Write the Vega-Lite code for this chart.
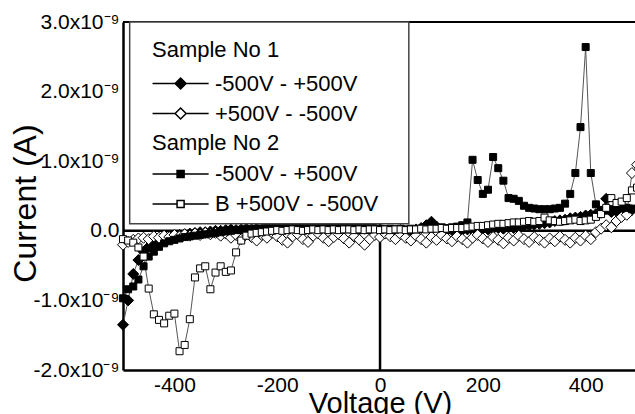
{
"$schema": "https://vega.github.io/schema/vega-lite/v6.json",
"autosize": "none",
"width": 512,
"height": 348,
"padding": {"left": 123, "top": 22, "right": 0, "bottom": 44},
"config": {
  "font": "Liberation Sans",
  "view": {"stroke": null},
  "axis": {"domainColor": "black", "domainWidth": 2.5, "tickColor": "black", "tickWidth": 2, "tickSize": 0, "labelColor": "black", "titleColor": "black", "labelFont": "Liberation Sans", "titleFont": "Liberation Sans", "titleFontWeight": "normal", "grid": false, "labelFontSize": 21},
  "legend": {"labelFont": "Liberation Sans", "titleFont": "Liberation Sans", "labelFontSize": 22, "titleFontSize": 22, "titleFontWeight": "normal", "labelColor": "black", "titleColor": "black", "symbolSize": 121, "labelOffset": 41, "padding": 0, "rowPadding": 8, "titlePadding": 8, "orient": "none", "labelLimit": 400}
},
"datasets": {
"s1": [
{"run":"-500V - +500V","V":-500,"I":-1.35e-9},{"run":"-500V - +500V","V":-490,"I":-1.0e-9},{"run":"-500V - +500V","V":-480,"I":-0.62e-9},{"run":"-500V - +500V","V":-470,"I":-0.42e-9},{"run":"-500V - +500V","V":-460,"I":-0.3e-9},
{"run":"-500V - +500V","V":-450,"I":-0.23e-9},{"run":"-500V - +500V","V":-440,"I":-0.18e-9},{"run":"-500V - +500V","V":-430,"I":-0.14e-9},{"run":"-500V - +500V","V":-420,"I":-0.11e-9},{"run":"-500V - +500V","V":-410,"I":-0.09e-9},
{"run":"-500V - +500V","V":-400,"I":-0.07e-9},{"run":"-500V - +500V","V":-390,"I":-0.06e-9},{"run":"-500V - +500V","V":-380,"I":-0.05e-9},{"run":"-500V - +500V","V":-370,"I":-0.04e-9},{"run":"-500V - +500V","V":-360,"I":-0.03e-9},
{"run":"-500V - +500V","V":-350,"I":-0.02e-9},{"run":"-500V - +500V","V":-340,"I":-0.02e-9},{"run":"-500V - +500V","V":-330,"I":-0.01e-9},{"run":"-500V - +500V","V":-320,"I":0},{"run":"-500V - +500V","V":-310,"I":0},
{"run":"-500V - +500V","V":-300,"I":0.01e-9},{"run":"-500V - +500V","V":-290,"I":0.02e-9},{"run":"-500V - +500V","V":-280,"I":0.01e-9},{"run":"-500V - +500V","V":-270,"I":0.02e-9},{"run":"-500V - +500V","V":-260,"I":0.03e-9},
{"run":"-500V - +500V","V":-250,"I":0.02e-9},{"run":"-500V - +500V","V":-240,"I":0.03e-9},{"run":"-500V - +500V","V":-230,"I":0.02e-9},{"run":"-500V - +500V","V":-220,"I":0.03e-9},{"run":"-500V - +500V","V":-210,"I":0.03e-9},
{"run":"-500V - +500V","V":-200,"I":0.02e-9},{"run":"-500V - +500V","V":-190,"I":0.03e-9},{"run":"-500V - +500V","V":-180,"I":0.04e-9},{"run":"-500V - +500V","V":-170,"I":0.02e-9},{"run":"-500V - +500V","V":-160,"I":0.03e-9},
{"run":"-500V - +500V","V":-150,"I":0.03e-9},{"run":"-500V - +500V","V":-140,"I":0.04e-9},{"run":"-500V - +500V","V":-130,"I":0.03e-9},{"run":"-500V - +500V","V":-120,"I":0.02e-9},{"run":"-500V - +500V","V":-110,"I":0.03e-9},
{"run":"-500V - +500V","V":-100,"I":0.04e-9},{"run":"-500V - +500V","V":-90,"I":0.03e-9},{"run":"-500V - +500V","V":-80,"I":0.02e-9},{"run":"-500V - +500V","V":-70,"I":0.03e-9},{"run":"-500V - +500V","V":-60,"I":0.04e-9},
{"run":"-500V - +500V","V":-50,"I":0.03e-9},{"run":"-500V - +500V","V":-40,"I":0.02e-9},{"run":"-500V - +500V","V":-30,"I":0.03e-9},{"run":"-500V - +500V","V":-20,"I":0.02e-9},{"run":"-500V - +500V","V":-10,"I":0.03e-9},
{"run":"-500V - +500V","V":0,"I":0.02e-9},{"run":"-500V - +500V","V":10,"I":0},{"run":"-500V - +500V","V":20,"I":-0.02e-9},{"run":"-500V - +500V","V":30,"I":0},{"run":"-500V - +500V","V":40,"I":0.01e-9},
{"run":"-500V - +500V","V":50,"I":-0.01e-9},{"run":"-500V - +500V","V":60,"I":0},{"run":"-500V - +500V","V":70,"I":0.02e-9},{"run":"-500V - +500V","V":80,"I":0.04e-9},{"run":"-500V - +500V","V":90,"I":0.08e-9},
{"run":"-500V - +500V","V":100,"I":0.13e-9},{"run":"-500V - +500V","V":110,"I":0.06e-9},{"run":"-500V - +500V","V":120,"I":0.02e-9},{"run":"-500V - +500V","V":130,"I":0},{"run":"-500V - +500V","V":140,"I":0.01e-9},
{"run":"-500V - +500V","V":150,"I":0},{"run":"-500V - +500V","V":160,"I":0.01e-9},{"run":"-500V - +500V","V":170,"I":0.02e-9},{"run":"-500V - +500V","V":180,"I":0.01e-9},{"run":"-500V - +500V","V":190,"I":0.02e-9},
{"run":"-500V - +500V","V":200,"I":0.03e-9},{"run":"-500V - +500V","V":210,"I":0.02e-9},{"run":"-500V - +500V","V":220,"I":0.03e-9},{"run":"-500V - +500V","V":230,"I":0.04e-9},{"run":"-500V - +500V","V":240,"I":0.03e-9},
{"run":"-500V - +500V","V":250,"I":0.05e-9},{"run":"-500V - +500V","V":260,"I":0.04e-9},{"run":"-500V - +500V","V":270,"I":0.06e-9},{"run":"-500V - +500V","V":280,"I":0.07e-9},{"run":"-500V - +500V","V":290,"I":0.08e-9},
{"run":"-500V - +500V","V":300,"I":0.09e-9},{"run":"-500V - +500V","V":310,"I":0.1e-9},{"run":"-500V - +500V","V":320,"I":0.11e-9},{"run":"-500V - +500V","V":330,"I":0.12e-9},{"run":"-500V - +500V","V":340,"I":0.14e-9},
{"run":"-500V - +500V","V":350,"I":0.15e-9},{"run":"-500V - +500V","V":360,"I":0.16e-9},{"run":"-500V - +500V","V":370,"I":0.18e-9},{"run":"-500V - +500V","V":380,"I":0.19e-9},{"run":"-500V - +500V","V":390,"I":0.2e-9},
{"run":"-500V - +500V","V":400,"I":0.22e-9},{"run":"-500V - +500V","V":410,"I":0.23e-9},{"run":"-500V - +500V","V":420,"I":0.24e-9},{"run":"-500V - +500V","V":430,"I":0.26e-9},{"run":"-500V - +500V","V":440,"I":0.46e-9},
{"run":"-500V - +500V","V":450,"I":0.27e-9},{"run":"-500V - +500V","V":460,"I":0.28e-9},{"run":"-500V - +500V","V":470,"I":0.3e-9},{"run":"-500V - +500V","V":480,"I":0.31e-9},{"run":"-500V - +500V","V":490,"I":0.3e-9},
{"run":"-500V - +500V","V":500,"I":0.32e-9},
{"run":"+500V - -500V","V":-500,"I":-0.2e-9},{"run":"+500V - -500V","V":-490,"I":-0.16e-9},{"run":"+500V - -500V","V":-480,"I":-0.13e-9},{"run":"+500V - -500V","V":-470,"I":-0.11e-9},{"run":"+500V - -500V","V":-460,"I":-0.1e-9},
{"run":"+500V - -500V","V":-450,"I":-0.12e-9},{"run":"+500V - -500V","V":-440,"I":-0.08e-9},{"run":"+500V - -500V","V":-430,"I":-0.1e-9},{"run":"+500V - -500V","V":-420,"I":-0.07e-9},{"run":"+500V - -500V","V":-410,"I":-0.09e-9},
{"run":"+500V - -500V","V":-400,"I":-0.06e-9},{"run":"+500V - -500V","V":-390,"I":-0.08e-9},{"run":"+500V - -500V","V":-380,"I":-0.05e-9},{"run":"+500V - -500V","V":-370,"I":-0.07e-9},{"run":"+500V - -500V","V":-360,"I":-0.04e-9},
{"run":"+500V - -500V","V":-350,"I":-0.06e-9},{"run":"+500V - -500V","V":-340,"I":-0.03e-9},{"run":"+500V - -500V","V":-330,"I":-0.05e-9},{"run":"+500V - -500V","V":-320,"I":-0.03e-9},{"run":"+500V - -500V","V":-310,"I":-0.07e-9},
{"run":"+500V - -500V","V":-300,"I":-0.04e-9},{"run":"+500V - -500V","V":-290,"I":-0.1e-9},{"run":"+500V - -500V","V":-280,"I":-0.06e-9},{"run":"+500V - -500V","V":-270,"I":-0.12e-9},{"run":"+500V - -500V","V":-260,"I":-0.05e-9},
{"run":"+500V - -500V","V":-250,"I":-0.09e-9},{"run":"+500V - -500V","V":-240,"I":-0.14e-9},{"run":"+500V - -500V","V":-230,"I":-0.06e-9},{"run":"+500V - -500V","V":-220,"I":-0.1e-9},{"run":"+500V - -500V","V":-210,"I":-0.03e-9},
{"run":"+500V - -500V","V":-200,"I":-0.08e-9},{"run":"+500V - -500V","V":-190,"I":-0.13e-9},{"run":"+500V - -500V","V":-180,"I":-0.17e-9},{"run":"+500V - -500V","V":-170,"I":-0.08e-9},{"run":"+500V - -500V","V":-160,"I":-0.05e-9},
{"run":"+500V - -500V","V":-150,"I":-0.12e-9},{"run":"+500V - -500V","V":-140,"I":-0.16e-9},{"run":"+500V - -500V","V":-130,"I":-0.07e-9},{"run":"+500V - -500V","V":-120,"I":-0.04e-9},{"run":"+500V - -500V","V":-110,"I":-0.1e-9},
{"run":"+500V - -500V","V":-100,"I":-0.15e-9},{"run":"+500V - -500V","V":-90,"I":-0.09e-9},{"run":"+500V - -500V","V":-80,"I":-0.05e-9},{"run":"+500V - -500V","V":-70,"I":-0.11e-9},{"run":"+500V - -500V","V":-60,"I":-0.17e-9},
{"run":"+500V - -500V","V":-50,"I":-0.08e-9},{"run":"+500V - -500V","V":-40,"I":-0.13e-9},{"run":"+500V - -500V","V":-30,"I":-0.2e-9},{"run":"+500V - -500V","V":-20,"I":-0.12e-9},{"run":"+500V - -500V","V":-10,"I":-0.06e-9},
{"run":"+500V - -500V","V":0,"I":-0.09e-9},{"run":"+500V - -500V","V":10,"I":-0.04e-9},{"run":"+500V - -500V","V":20,"I":-0.08e-9},{"run":"+500V - -500V","V":30,"I":-0.12e-9},{"run":"+500V - -500V","V":40,"I":-0.05e-9},
{"run":"+500V - -500V","V":50,"I":-0.1e-9},{"run":"+500V - -500V","V":60,"I":-0.14e-9},{"run":"+500V - -500V","V":70,"I":-0.07e-9},{"run":"+500V - -500V","V":80,"I":-0.12e-9},{"run":"+500V - -500V","V":90,"I":-0.17e-9},
{"run":"+500V - -500V","V":100,"I":-0.09e-9},{"run":"+500V - -500V","V":110,"I":-0.13e-9},{"run":"+500V - -500V","V":120,"I":-0.06e-9},{"run":"+500V - -500V","V":130,"I":-0.11e-9},{"run":"+500V - -500V","V":140,"I":-0.15e-9},
{"run":"+500V - -500V","V":150,"I":-0.08e-9},{"run":"+500V - -500V","V":160,"I":-0.12e-9},{"run":"+500V - -500V","V":170,"I":-0.17e-9},{"run":"+500V - -500V","V":180,"I":-0.1e-9},{"run":"+500V - -500V","V":190,"I":-0.06e-9},
{"run":"+500V - -500V","V":200,"I":-0.11e-9},{"run":"+500V - -500V","V":210,"I":-0.16e-9},{"run":"+500V - -500V","V":220,"I":-0.09e-9},{"run":"+500V - -500V","V":230,"I":-0.13e-9},{"run":"+500V - -500V","V":240,"I":-0.18e-9},
{"run":"+500V - -500V","V":250,"I":-0.1e-9},{"run":"+500V - -500V","V":260,"I":-0.14e-9},{"run":"+500V - -500V","V":270,"I":-0.07e-9},{"run":"+500V - -500V","V":280,"I":-0.12e-9},{"run":"+500V - -500V","V":290,"I":-0.16e-9},
{"run":"+500V - -500V","V":300,"I":-0.09e-9},{"run":"+500V - -500V","V":310,"I":-0.13e-9},{"run":"+500V - -500V","V":320,"I":-0.17e-9},{"run":"+500V - -500V","V":330,"I":-0.11e-9},{"run":"+500V - -500V","V":340,"I":-0.15e-9},
{"run":"+500V - -500V","V":350,"I":-0.08e-9},{"run":"+500V - -500V","V":360,"I":-0.13e-9},{"run":"+500V - -500V","V":370,"I":-0.17e-9},{"run":"+500V - -500V","V":380,"I":-0.1e-9},{"run":"+500V - -500V","V":390,"I":-0.14e-9},
{"run":"+500V - -500V","V":400,"I":-0.07e-9},{"run":"+500V - -500V","V":410,"I":-0.12e-9},{"run":"+500V - -500V","V":420,"I":-0.02e-9},{"run":"+500V - -500V","V":430,"I":0.03e-9},{"run":"+500V - -500V","V":440,"I":0.08e-9},
{"run":"+500V - -500V","V":450,"I":0.05e-9},{"run":"+500V - -500V","V":460,"I":0.14e-9},{"run":"+500V - -500V","V":470,"I":0.2e-9},{"run":"+500V - -500V","V":480,"I":0.23e-9},{"run":"+500V - -500V","V":490,"I":0.83e-9},
{"run":"+500V - -500V","V":500,"I":0.95e-9}
],
"s2": [
{"run":"-500V - +500V","V":-500,"I":-0.97e-9},{"run":"-500V - +500V","V":-490,"I":-0.84e-9},{"run":"-500V - +500V","V":-480,"I":-0.8e-9},{"run":"-500V - +500V","V":-470,"I":-0.7e-9},{"run":"-500V - +500V","V":-460,"I":-0.51e-9},
{"run":"-500V - +500V","V":-450,"I":-0.37e-9},{"run":"-500V - +500V","V":-440,"I":-0.3e-9},{"run":"-500V - +500V","V":-430,"I":-0.23e-9},{"run":"-500V - +500V","V":-420,"I":-0.18e-9},{"run":"-500V - +500V","V":-410,"I":-0.15e-9},
{"run":"-500V - +500V","V":-400,"I":-0.13e-9},{"run":"-500V - +500V","V":-390,"I":-0.11e-9},{"run":"-500V - +500V","V":-380,"I":-0.09e-9},{"run":"-500V - +500V","V":-370,"I":-0.08e-9},{"run":"-500V - +500V","V":-360,"I":-0.07e-9},
{"run":"-500V - +500V","V":-350,"I":-0.06e-9},{"run":"-500V - +500V","V":-340,"I":-0.05e-9},{"run":"-500V - +500V","V":-330,"I":-0.04e-9},{"run":"-500V - +500V","V":-320,"I":-0.03e-9},{"run":"-500V - +500V","V":-310,"I":-0.02e-9},
{"run":"-500V - +500V","V":-300,"I":-0.01e-9},{"run":"-500V - +500V","V":-290,"I":0},{"run":"-500V - +500V","V":-280,"I":0.01e-9},{"run":"-500V - +500V","V":-270,"I":0.01e-9},{"run":"-500V - +500V","V":-260,"I":0.02e-9},
{"run":"-500V - +500V","V":-250,"I":0.02e-9},{"run":"-500V - +500V","V":-240,"I":0.03e-9},{"run":"-500V - +500V","V":-230,"I":0.03e-9},{"run":"-500V - +500V","V":-220,"I":0.04e-9},{"run":"-500V - +500V","V":-210,"I":0.03e-9},
{"run":"-500V - +500V","V":-200,"I":0.04e-9},{"run":"-500V - +500V","V":-190,"I":0.03e-9},{"run":"-500V - +500V","V":-180,"I":0.04e-9},{"run":"-500V - +500V","V":-170,"I":0.05e-9},{"run":"-500V - +500V","V":-160,"I":0.04e-9},
{"run":"-500V - +500V","V":-150,"I":0.03e-9},{"run":"-500V - +500V","V":-140,"I":0.04e-9},{"run":"-500V - +500V","V":-130,"I":0.05e-9},{"run":"-500V - +500V","V":-120,"I":0.04e-9},{"run":"-500V - +500V","V":-110,"I":0.03e-9},
{"run":"-500V - +500V","V":-100,"I":0.04e-9},{"run":"-500V - +500V","V":-90,"I":0.05e-9},{"run":"-500V - +500V","V":-80,"I":0.04e-9},{"run":"-500V - +500V","V":-70,"I":0.03e-9},{"run":"-500V - +500V","V":-60,"I":0.04e-9},
{"run":"-500V - +500V","V":-50,"I":0.05e-9},{"run":"-500V - +500V","V":-40,"I":0.04e-9},{"run":"-500V - +500V","V":-30,"I":0.03e-9},{"run":"-500V - +500V","V":-20,"I":0.04e-9},{"run":"-500V - +500V","V":-10,"I":0.03e-9},
{"run":"-500V - +500V","V":0,"I":0.03e-9},{"run":"-500V - +500V","V":10,"I":0.02e-9},{"run":"-500V - +500V","V":20,"I":0.03e-9},{"run":"-500V - +500V","V":30,"I":0.02e-9},{"run":"-500V - +500V","V":40,"I":0.03e-9},
{"run":"-500V - +500V","V":50,"I":0.02e-9},{"run":"-500V - +500V","V":60,"I":0.03e-9},{"run":"-500V - +500V","V":70,"I":0.02e-9},{"run":"-500V - +500V","V":80,"I":0.03e-9},{"run":"-500V - +500V","V":90,"I":0.04e-9},
{"run":"-500V - +500V","V":100,"I":0.03e-9},{"run":"-500V - +500V","V":110,"I":0.04e-9},{"run":"-500V - +500V","V":120,"I":0.05e-9},{"run":"-500V - +500V","V":130,"I":0.04e-9},{"run":"-500V - +500V","V":140,"I":0.05e-9},
{"run":"-500V - +500V","V":150,"I":0.06e-9},{"run":"-500V - +500V","V":160,"I":0.08e-9},{"run":"-500V - +500V","V":170,"I":0.12e-9},{"run":"-500V - +500V","V":180,"I":1.02e-9},{"run":"-500V - +500V","V":190,"I":0.73e-9},
{"run":"-500V - +500V","V":200,"I":0.53e-9},{"run":"-500V - +500V","V":210,"I":0.59e-9},{"run":"-500V - +500V","V":220,"I":1.06e-9},{"run":"-500V - +500V","V":230,"I":0.9e-9},{"run":"-500V - +500V","V":240,"I":0.72e-9},
{"run":"-500V - +500V","V":250,"I":0.47e-9},{"run":"-500V - +500V","V":260,"I":0.46e-9},{"run":"-500V - +500V","V":270,"I":0.43e-9},{"run":"-500V - +500V","V":280,"I":0.36e-9},{"run":"-500V - +500V","V":290,"I":0.33e-9},
{"run":"-500V - +500V","V":300,"I":0.32e-9},{"run":"-500V - +500V","V":310,"I":0.31e-9},{"run":"-500V - +500V","V":320,"I":0.31e-9},{"run":"-500V - +500V","V":330,"I":0.31e-9},{"run":"-500V - +500V","V":340,"I":0.32e-9},
{"run":"-500V - +500V","V":350,"I":0.33e-9},{"run":"-500V - +500V","V":360,"I":0.39e-9},{"run":"-500V - +500V","V":370,"I":0.53e-9},{"run":"-500V - +500V","V":380,"I":0.83e-9},{"run":"-500V - +500V","V":390,"I":1.49e-9},
{"run":"-500V - +500V","V":400,"I":2.64e-9},{"run":"-500V - +500V","V":410,"I":0.83e-9},{"run":"-500V - +500V","V":420,"I":0.38e-9},{"run":"-500V - +500V","V":430,"I":0.3e-9},{"run":"-500V - +500V","V":440,"I":0.29e-9},
{"run":"-500V - +500V","V":450,"I":0.31e-9},{"run":"-500V - +500V","V":460,"I":0.3e-9},{"run":"-500V - +500V","V":470,"I":0.32e-9},{"run":"-500V - +500V","V":480,"I":0.33e-9},{"run":"-500V - +500V","V":490,"I":0.31e-9},
{"run":"-500V - +500V","V":500,"I":0.32e-9},
{"run":"B +500V - -500V","V":-500,"I":-0.12e-9},{"run":"B +500V - -500V","V":-490,"I":-0.14e-9},{"run":"B +500V - -500V","V":-480,"I":-0.17e-9},{"run":"B +500V - -500V","V":-470,"I":-0.24e-9},{"run":"B +500V - -500V","V":-460,"I":-0.37e-9},
{"run":"B +500V - -500V","V":-450,"I":-0.83e-9},{"run":"B +500V - -500V","V":-440,"I":-1.2e-9},{"run":"B +500V - -500V","V":-430,"I":-1.28e-9},{"run":"B +500V - -500V","V":-420,"I":-1.33e-9},{"run":"B +500V - -500V","V":-410,"I":-1.22e-9},
{"run":"B +500V - -500V","V":-400,"I":-1.19e-9},{"run":"B +500V - -500V","V":-390,"I":-1.73e-9},{"run":"B +500V - -500V","V":-380,"I":-1.64e-9},{"run":"B +500V - -500V","V":-370,"I":-1.27e-9},{"run":"B +500V - -500V","V":-360,"I":-0.67e-9},
{"run":"B +500V - -500V","V":-350,"I":-0.54e-9},{"run":"B +500V - -500V","V":-340,"I":-0.51e-9},{"run":"B +500V - -500V","V":-330,"I":-0.84e-9},{"run":"B +500V - -500V","V":-320,"I":-0.6e-9},{"run":"B +500V - -500V","V":-310,"I":-0.51e-9},
{"run":"B +500V - -500V","V":-300,"I":-0.59e-9},{"run":"B +500V - -500V","V":-290,"I":-0.57e-9},{"run":"B +500V - -500V","V":-280,"I":-0.31e-9},{"run":"B +500V - -500V","V":-270,"I":-0.14e-9},{"run":"B +500V - -500V","V":-260,"I":-0.07e-9},
{"run":"B +500V - -500V","V":-250,"I":-0.04e-9},{"run":"B +500V - -500V","V":-240,"I":-0.03e-9},{"run":"B +500V - -500V","V":-230,"I":-0.02e-9},{"run":"B +500V - -500V","V":-220,"I":-0.01e-9},{"run":"B +500V - -500V","V":-210,"I":0},
{"run":"B +500V - -500V","V":-200,"I":0.01e-9},{"run":"B +500V - -500V","V":-190,"I":0},{"run":"B +500V - -500V","V":-180,"I":0.01e-9},{"run":"B +500V - -500V","V":-170,"I":0.02e-9},{"run":"B +500V - -500V","V":-160,"I":0.01e-9},
{"run":"B +500V - -500V","V":-150,"I":0},{"run":"B +500V - -500V","V":-140,"I":0.01e-9},{"run":"B +500V - -500V","V":-130,"I":0.02e-9},{"run":"B +500V - -500V","V":-120,"I":0.01e-9},{"run":"B +500V - -500V","V":-110,"I":0.02e-9},
{"run":"B +500V - -500V","V":-100,"I":0.01e-9},{"run":"B +500V - -500V","V":-90,"I":0.02e-9},{"run":"B +500V - -500V","V":-80,"I":0.01e-9},{"run":"B +500V - -500V","V":-70,"I":0.02e-9},{"run":"B +500V - -500V","V":-60,"I":0.02e-9},
{"run":"B +500V - -500V","V":-50,"I":0.01e-9},{"run":"B +500V - -500V","V":-40,"I":0.02e-9},{"run":"B +500V - -500V","V":-30,"I":0.01e-9},{"run":"B +500V - -500V","V":-20,"I":0.02e-9},{"run":"B +500V - -500V","V":-10,"I":0.02e-9},
{"run":"B +500V - -500V","V":0,"I":0.01e-9},{"run":"B +500V - -500V","V":10,"I":0.02e-9},{"run":"B +500V - -500V","V":20,"I":0.01e-9},{"run":"B +500V - -500V","V":30,"I":0.02e-9},{"run":"B +500V - -500V","V":40,"I":0.02e-9},
{"run":"B +500V - -500V","V":50,"I":0.01e-9},{"run":"B +500V - -500V","V":60,"I":0.02e-9},{"run":"B +500V - -500V","V":70,"I":0.02e-9},{"run":"B +500V - -500V","V":80,"I":0.03e-9},{"run":"B +500V - -500V","V":90,"I":0.02e-9},
{"run":"B +500V - -500V","V":100,"I":0.03e-9},{"run":"B +500V - -500V","V":110,"I":0.03e-9},{"run":"B +500V - -500V","V":120,"I":0.04e-9},{"run":"B +500V - -500V","V":130,"I":0.03e-9},{"run":"B +500V - -500V","V":140,"I":0.04e-9},
{"run":"B +500V - -500V","V":150,"I":0.04e-9},{"run":"B +500V - -500V","V":160,"I":0.04e-9},{"run":"B +500V - -500V","V":170,"I":0.05e-9},{"run":"B +500V - -500V","V":180,"I":0.06e-9},{"run":"B +500V - -500V","V":190,"I":0.07e-9},
{"run":"B +500V - -500V","V":200,"I":0.07e-9},{"run":"B +500V - -500V","V":210,"I":0.08e-9},{"run":"B +500V - -500V","V":220,"I":0.09e-9},{"run":"B +500V - -500V","V":230,"I":0.1e-9},{"run":"B +500V - -500V","V":240,"I":0.1e-9},
{"run":"B +500V - -500V","V":250,"I":0.11e-9},{"run":"B +500V - -500V","V":260,"I":0.12e-9},{"run":"B +500V - -500V","V":270,"I":0.12e-9},{"run":"B +500V - -500V","V":280,"I":0.13e-9},{"run":"B +500V - -500V","V":290,"I":0.14e-9},
{"run":"B +500V - -500V","V":300,"I":0.13e-9},{"run":"B +500V - -500V","V":310,"I":0.14e-9},{"run":"B +500V - -500V","V":320,"I":0.19e-9},{"run":"B +500V - -500V","V":330,"I":0.15e-9},{"run":"B +500V - -500V","V":340,"I":0.14e-9},
{"run":"B +500V - -500V","V":350,"I":0.13e-9},{"run":"B +500V - -500V","V":360,"I":0.14e-9},{"run":"B +500V - -500V","V":370,"I":0.15e-9},{"run":"B +500V - -500V","V":380,"I":0.16e-9},{"run":"B +500V - -500V","V":390,"I":0.14e-9},
{"run":"B +500V - -500V","V":400,"I":0.15e-9},{"run":"B +500V - -500V","V":410,"I":0.16e-9},{"run":"B +500V - -500V","V":420,"I":0.2e-9},{"run":"B +500V - -500V","V":430,"I":0.24e-9},{"run":"B +500V - -500V","V":440,"I":0.33e-9},
{"run":"B +500V - -500V","V":450,"I":0.47e-9},{"run":"B +500V - -500V","V":460,"I":0.4e-9},{"run":"B +500V - -500V","V":470,"I":0.42e-9},{"run":"B +500V - -500V","V":480,"I":0.47e-9},{"run":"B +500V - -500V","V":490,"I":0.58e-9},
{"run":"B +500V - -500V","V":500,"I":0.62e-9}
]
},
"layer": [
 {"data": {"values": [{}]}, "mark": {"type": "rule", "color": "black", "strokeWidth": 2},
  "encoding": {"y": {"datum": 3e-9, "type": "quantitative", "scale": {"domain": [-2e-9, 3e-9], "nice": false, "zero": false}}}},
 {"data": {"values": [{}]}, "mark": {"type": "rule", "color": "black", "strokeWidth": 2.5},
  "encoding": {"y": {"datum": 0, "type": "quantitative", "scale": {"domain": [-2e-9, 3e-9], "nice": false, "zero": false}}}},
 {"data": {"values": [{}]}, "mark": {"type": "rule", "color": "black", "strokeWidth": 2.5},
  "encoding": {"x": {"datum": 0, "type": "quantitative", "scale": {"domain": [-500, 496], "nice": false, "zero": false}}}},
 {"data": {"name": "s1"}, "mark": {"type": "line", "color": "#555", "strokeWidth": 1},
  "encoding": {
   "x": {"field": "V", "type": "quantitative", "scale": {"domain": [-500, 496], "nice": false, "zero": false},
     "axis": {"title": "Voltage (V)", "values": [-400, -300, -200, -100, 0, 100, 200, 300, 400],
       "labelExpr": "datum.value % 200 === 0 ? '' + datum.value : ''", "labelBaseline": "alphabetic", "labelPadding": 21, "labelFlush": false,
       "titleFontSize": 29, "titleX": 257, "titleY": 42, "titleBaseline": "alphabetic", "titleAlign": "center",
       "encode": {"ticks": {"y2": {"signal": "datum.value % 200 === 0 ? -8 : -4"}}}}},
   "y": {"field": "I", "type": "quantitative", "scale": {"domain": [-2e-9, 3e-9], "nice": false, "zero": false},
     "axis": {"title": "Current (A)", "values": [-2e-9, -1.5e-9, -1e-9, -5e-10, 0, 5e-10, 1e-9, 1.5e-9, 2e-9, 2.5e-9, 3e-9],
       "labelExpr": "datum.value === 0 ? '0.0' : (abs(round(datum.value * 1e10)) % 10 === 0 ? (datum.value < 0 ? '-' : '') + format(abs(datum.value * 1e9), '.1f') + 'x10⁻⁹' : '')",
       "labelPadding": 4, "labelBaseline": "middle", "labelFlush": false,
       "titleFontSize": 32, "titleAngle": -90, "titleX": -88, "titleY": 181, "titleBaseline": "alphabetic", "titleAlign": "center",
       "encode": {"ticks": {"x2": {"signal": "abs(round(datum.value * 1e10)) % 10 === 0 ? 8 : 4"}}}}},
   "detail": {"field": "run"}
  }},
 {"data": {"name": "s2"}, "mark": {"type": "line", "color": "#555", "strokeWidth": 1},
  "encoding": {
   "x": {"field": "V", "type": "quantitative", "scale": {"domain": [-500, 496], "nice": false, "zero": false}},
   "y": {"field": "I", "type": "quantitative", "scale": {"domain": [-2e-9, 3e-9], "nice": false, "zero": false}},
   "detail": {"field": "run"}
  }},
 {"data": {"name": "s1"}, "mark": {"type": "point", "shape": "diamond", "filled": true, "size": 121, "stroke": "black", "strokeWidth": 1, "opacity": 1},
  "encoding": {
   "x": {"field": "V", "type": "quantitative", "scale": {"domain": [-500, 496], "nice": false, "zero": false}},
   "y": {"field": "I", "type": "quantitative", "scale": {"domain": [-2e-9, 3e-9], "nice": false, "zero": false}},
   "fill": {"field": "run", "type": "nominal", "scale": {"domain": ["-500V - +500V", "+500V - -500V"], "range": ["black", "white"]},
     "legend": {"title": "Sample No 1", "orient": "none", "legendX": 29, "legendY": 17.5, "titlePadding": 11,
       "symbolType": "M-1.9,0L2.2,0M4.2,0L8.3,0M3.2,-1L4.2,0L3.2,1L2.2,0Z",
       "encode": {"symbols": {"shape": {"value": "M-1.9,0L2.2,0M4.2,0L8.3,0M3.2,-1L4.2,0L3.2,1L2.2,0Z"}, "stroke": {"value": "black"}, "strokeWidth": {"value": 1}, "opacity": {"value": 1}}}}}
  }},
 {"data": {"name": "s2"}, "mark": {"type": "point", "shape": "square", "filled": true, "size": 49, "stroke": "black", "strokeWidth": 1, "opacity": 1},
  "encoding": {
   "x": {"field": "V", "type": "quantitative", "scale": {"domain": [-500, 496], "nice": false, "zero": false}},
   "y": {"field": "I", "type": "quantitative", "scale": {"domain": [-2e-9, 3e-9], "nice": false, "zero": false}},
   "fill": {"field": "run", "type": "nominal", "scale": {"domain": ["-500V - +500V", "B +500V - -500V"], "range": ["black", "white"]},
     "legend": {"title": "Sample No 2", "orient": "none", "legendX": 29, "legendY": 111,
       "symbolType": "M-1.9,0L2.56,0M3.84,0L8.3,0M2.56,-0.64L3.84,-0.64L3.84,0.64L2.56,0.64Z",
       "encode": {"symbols": {"shape": {"value": "M-1.9,0L2.56,0M3.84,0L8.3,0M2.56,-0.64L3.84,-0.64L3.84,0.64L2.56,0.64Z"}, "stroke": {"value": "black"}, "strokeWidth": {"value": 1}, "opacity": {"value": 1}}}}}
  }},
 {"data": {"values": [{}]}, "mark": {"type": "rect", "fill": "white", "stroke": "#444", "strokeWidth": 1.5},
  "encoding": {
   "x": {"datum": -487, "type": "quantitative", "scale": {"domain": [-500, 496], "nice": false, "zero": false}},
   "x2": {"datum": 56},
   "y": {"datum": 3e-9, "type": "quantitative", "scale": {"domain": [-2e-9, 3e-9], "nice": false, "zero": false}},
   "y2": {"datum": 1e-10}
  }}
],
"resolve": {"scale": {"fill": "independent"}}
}
